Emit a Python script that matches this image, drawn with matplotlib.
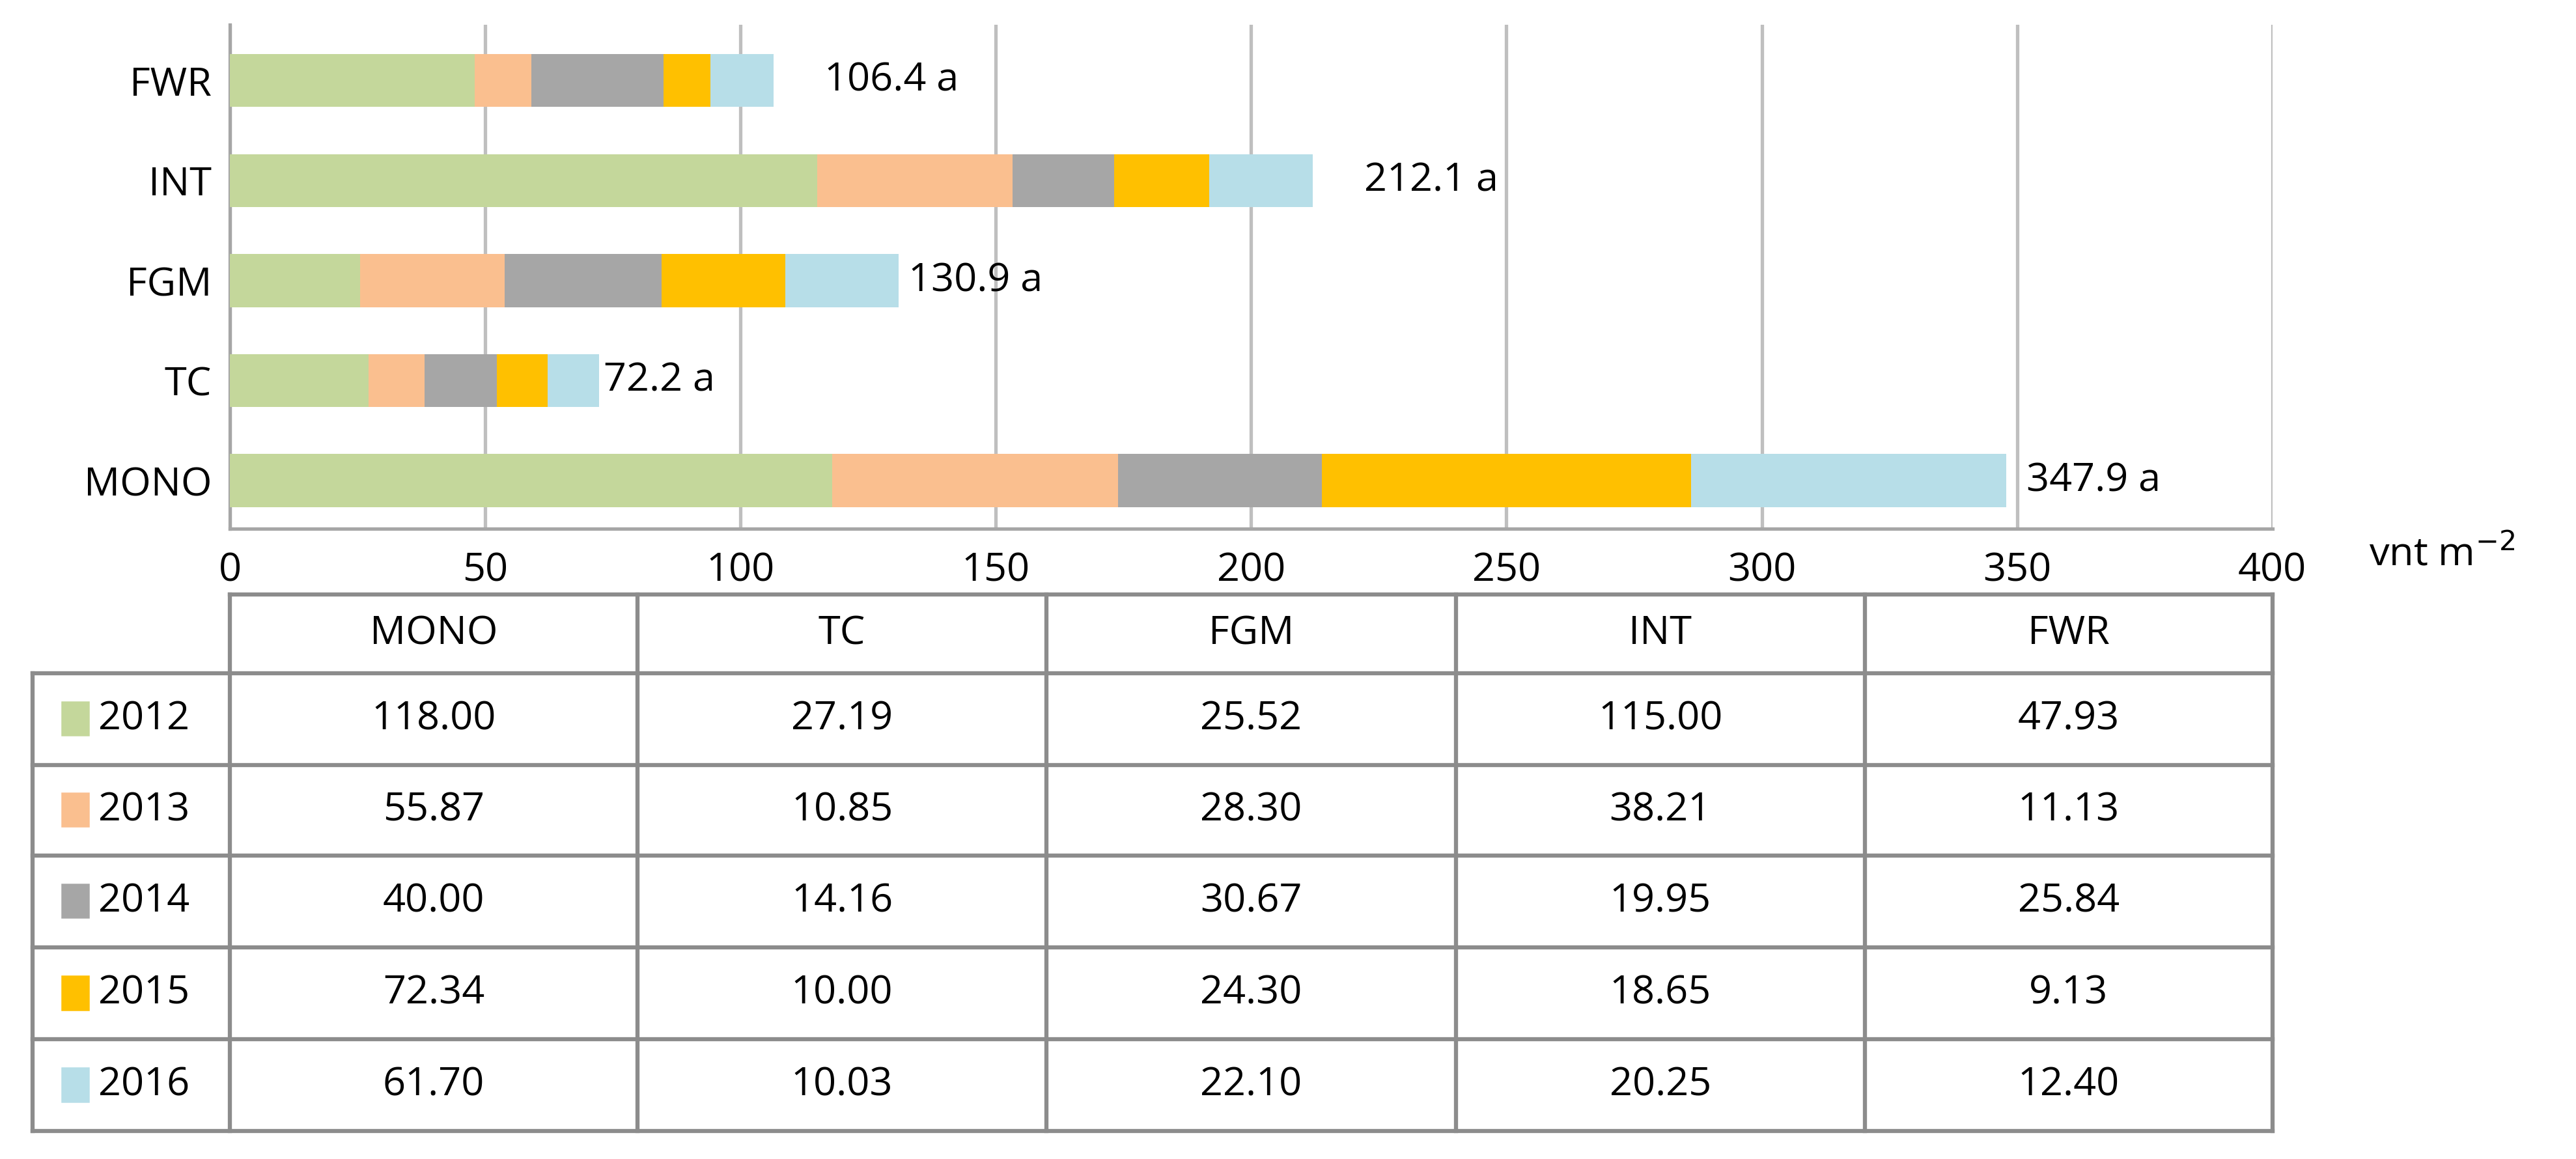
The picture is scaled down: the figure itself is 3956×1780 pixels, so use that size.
import matplotlib
matplotlib.use("Agg")
import matplotlib.pyplot as plt

systems = ["MONO", "TC", "FGM", "INT", "FWR"]
years = ["2012", "2013", "2014", "2015", "2016"]
values = {
    "2012": [118.00, 27.19, 25.52, 115.00, 47.93],
    "2013": [55.87, 10.85, 28.30, 38.21, 11.13],
    "2014": [40.00, 14.16, 30.67, 19.95, 25.84],
    "2015": [72.34, 10.00, 24.30, 18.65, 9.13],
    "2016": [61.70, 10.03, 22.10, 20.25, 12.40],
}
totals = ["347.9 a", "72.2 a", "130.9 a", "212.1 a", "106.4 a"]
total_vals = [347.9, 72.2, 130.9, 212.1, 106.4]
label_gap = [4, 1, 2, 10, 10]
colors = ["#C4D79B", "#FABF8F", "#A6A6A6", "#FFC000", "#B7DEE8"]

plt.rcParams["font.family"] = ["Open Sans", "DejaVu Sans"]
FS = 17.5
W, H = 1568, 706
fig = plt.figure(figsize=(15.7, 7.064), dpi=252)

ax = fig.add_axes([140 / W, (H - 322) / H, 1243 / W, 307 / H])
left = [0] * len(systems)
for yr, c in zip(years, colors):
    ax.barh(range(len(systems)), values[yr], left=left, height=0.53, color=c, zorder=3)
    left = [a + b for a, b in zip(left, values[yr])]
for i, (t, v, g) in enumerate(zip(totals, total_vals, label_gap)):
    ax.text(v + g, i, t, va="center", ha="left", fontsize=FS)
ax.set_xlim(0, 400)
ax.set_ylim(-0.48, 4.56)
ax.set_xticks(range(0, 401, 50))
ax.set_yticks(range(len(systems)))
ax.set_yticklabels(systems)
ax.tick_params(axis="both", labelsize=FS, length=0, pad=8)
ax.tick_params(axis="x", pad=10)
ax.grid(axis="x", color="#BFBFBF", linewidth=1.5, zorder=0)
for s in ["top", "right"]:
    ax.spines[s].set_visible(False)
for s in ["left", "bottom"]:
    ax.spines[s].set_color("#A6A6A6")
    ax.spines[s].set_linewidth(1.5)
fig.text(1442 / W, 1 - 338 / H, "vnt m$^{-2}$", fontsize=FS, va="center", ha="left")

# data table below the chart
tb = fig.add_axes([0, 0, 1, 1])
tb.set_xlim(0, W)
tb.set_ylim(H, 0)
tb.axis("off")
col_x = [140, 388, 637, 886, 1135, 1383]
row_y = [362, 410, 466, 521, 577, 633, 689]
lc, lw = "#8C8C8C", 1.8
tb.plot([140, 1383], [row_y[0]] * 2, color=lc, lw=lw)
for y in row_y[1:]:
    tb.plot([20, 1383], [y, y], color=lc, lw=lw)
for x in col_x:
    tb.plot([x, x], [row_y[0], row_y[-1]], color=lc, lw=lw)
tb.plot([20, 20], [row_y[1], row_y[-1]], color=lc, lw=lw)
for j, s in enumerate(systems):
    tb.text((col_x[j] + col_x[j + 1]) / 2, (row_y[0] + row_y[1]) / 2, s,
            ha="center", va="center", fontsize=FS)
for i, (yr, c) in enumerate(zip(years, colors)):
    yc = (row_y[i + 1] + row_y[i + 2]) / 2
    tb.add_patch(plt.Rectangle((38, yc - 10), 16, 20, color=c))
    tb.text(60, yc, yr, ha="left", va="center", fontsize=FS)
    for j, v in enumerate(values[yr]):
        tb.text((col_x[j] + col_x[j + 1]) / 2, yc, f"{v:.2f}",
                ha="center", va="center", fontsize=FS)

fig.savefig("out.png", dpi=252)
